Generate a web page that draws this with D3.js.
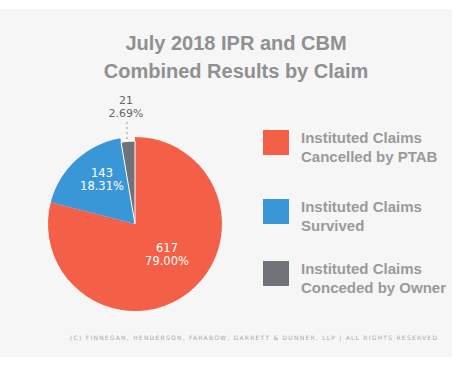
<!DOCTYPE html>
<html><head><meta charset="utf-8">
<script src="https://cdn.jsdelivr.net/npm/d3@7"></script>
<style>html,body{margin:0;padding:0;background:#fff;}svg{display:block;}</style>
</head><body>
<script>
const categories = ["Instituted Claims Cancelled by PTAB", "Instituted Claims Survived", "Instituted Claims Conceded by Owner"];
const legendLines = [["Instituted Claims","Cancelled by PTAB"],["Instituted Claims","Survived"],["Instituted Claims","Conceded by Owner"]];
const values = [617, 143, 21];
const percentLabels = ["79.00%", "18.31%", "2.69%"];
const colors = ["#f45f47", "#3a97d7", "#6f7377"];
const titleLines = ["July 2018 IPR and CBM", "Combined Results by Claim"];
const footer = "(C) FINNEGAN, HENDERSON, FARABOW, GARRETT & DUNNER, LLP | ALL RIGHTS RESERVED";

const W = 461, H = 370;
const svg = d3.select("body").append("svg").attr("width", W).attr("height", H);
svg.append("rect").attr("x", 0).attr("y", 9).attr("width", 452).attr("height", 348).attr("fill", "#f6f6f6");

svg.selectAll("text.title").data(titleLines).join("text")
  .attr("x", 236).attr("y", (d,i) => 50 + i*28)
  .attr("text-anchor", "middle")
  .attr("font-family", "Liberation Sans, Arial, sans-serif")
  .attr("font-weight", "bold").attr("font-size", 20)
  .attr("fill", "#909090").text(d => d);

const cx = 135, cy = 224, R = 87;
const pie = d3.pie().sort(null).value(d => d)(values);
const arc = d3.arc().innerRadius(0).outerRadius(R);
const arcSmall = d3.arc().innerRadius(0).outerRadius(R - 4);
const g = svg.append("g").attr("transform", `translate(${cx},${cy})`);
g.selectAll("path").data(pie).join("path")
  .attr("d", (d,i) => i === 2 ? arcSmall(d) : arc(d))
  .attr("fill", (d,i) => colors[i])
  .attr("stroke", (d,i) => i === 2 ? "#fff" : "none")
  .attr("stroke-width", 1);

// inside labels
const labelPos = [[32, 28], [-33, -47]];
[0, 1].forEach(i => {
  g.append("text").attr("text-anchor", "middle")
    .attr("font-family", "DejaVu Sans, sans-serif").attr("font-size", 11.5)
    .attr("fill", "#fff").attr("x", labelPos[i][0]).attr("y", labelPos[i][1]).text(values[i]);
  g.append("text").attr("text-anchor", "middle")
    .attr("font-family", "DejaVu Sans, sans-serif").attr("font-size", 11.5)
    .attr("fill", "#fff").attr("x", labelPos[i][0]).attr("y", labelPos[i][1] + 12.5).text(percentLabels[i]);
});
// outside label for small slice
const mid = (pie[2].startAngle + pie[2].endAngle) / 2;
const lx = Math.sin(mid) * (R - 4);
g.append("line").attr("x1", lx - 1).attr("x2", lx - 1).attr("y1", -R + 2).attr("y2", -R - 17)
  .attr("stroke", "#999").attr("stroke-width", 1).attr("stroke-dasharray", "2,3");
g.append("text").attr("text-anchor", "middle")
  .attr("font-family", "DejaVu Sans, sans-serif").attr("font-size", 11).attr("fill", "#666")
  .attr("x", lx - 2).attr("y", -120).text(values[2]);
g.append("text").attr("text-anchor", "middle")
  .attr("font-family", "DejaVu Sans, sans-serif").attr("font-size", 11).attr("fill", "#666")
  .attr("x", lx - 2).attr("y", -107.5).text(percentLabels[2]);

// legend
const leg = svg.append("g");
const ly = [130, 199, 261];
legendLines.forEach((lines, i) => {
  leg.append("rect").attr("x", 263).attr("y", ly[i]).attr("width", 26).attr("height", 25).attr("fill", colors[i]);
  lines.forEach((ln, j) => {
    leg.append("text").attr("x", 301).attr("y", ly[i] + 13 + j*19)
      .attr("font-family", "Liberation Sans, Arial, sans-serif").attr("font-weight", "bold")
      .attr("font-size", 15).attr("fill", "#9a9a9a").text(ln);
  });
});

svg.append("text").attr("x", 70).attr("y", 340)
  .attr("font-family", "DejaVu Sans, sans-serif").attr("font-size", 6)
  .attr("textLength", 367).attr("lengthAdjust", "spacing")
  .attr("fill", "#a8a8a8").text(footer);
</script>
</body></html>
